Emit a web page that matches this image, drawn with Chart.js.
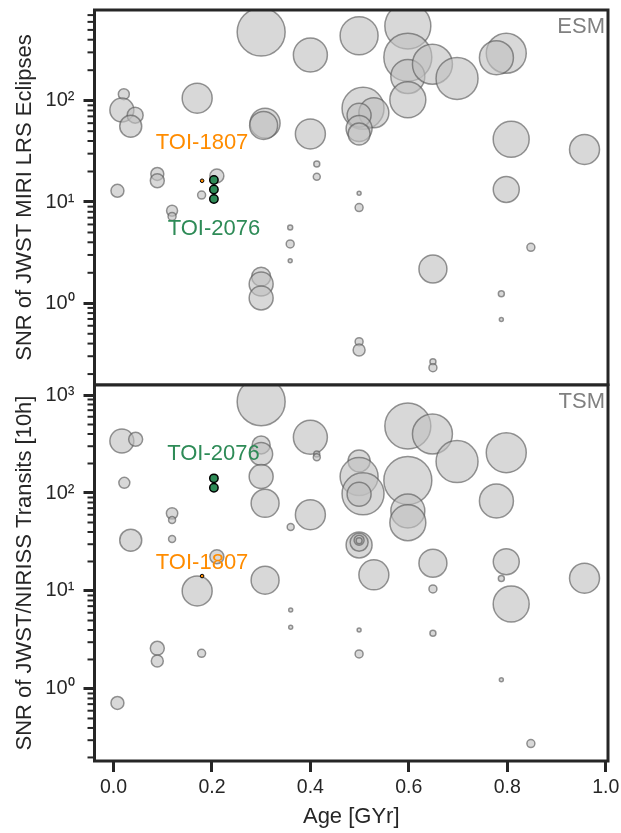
<!DOCTYPE html>
<html>
<head>
<meta charset="utf-8">
<script src="https://cdn.jsdelivr.net/npm/chart.js@4/dist/chart.umd.min.js"></script>
<style>
html,body{margin:0;padding:0;background:#fff;}
#wrap{position:relative;width:621px;height:833px;overflow:hidden;background:#fff;}
#c1{position:absolute;left:0;top:0;}
#c2{position:absolute;left:0;top:380px;}
</style>
</head>
<body>
<div id="wrap">
<canvas id="c1" width="621" height="386"></canvas>
<canvas id="c2" width="621" height="453"></canvas>
</div>
<script>
// ---------------- DATA ----------------
// Upper panel: ESM-based SNR of JWST MIRI LRS eclipses
const esmAge = [0.300,0.400,0.021,0.017,0.044,0.035,0.170,0.308,0.305,0.400,
                0.413,0.413,0.210,0.089,0.089,0.008,0.179,0.119,0.119,0.359,
                0.359,0.359,0.300,0.300,0.300,0.499,0.598,0.598,0.598,0.648,
                0.698,0.598,0.798,0.778,0.507,0.529,0.499,0.499,0.499,0.808,
                0.957,0.798,0.499,0.499,0.848,0.649,0.788,0.788,0.499,0.499,
                0.649,0.649];
const esmSNR = [477,283,116,81,72,56,106,60,57,47,
                23.7,17.7,18.1,18.9,16.2,12.9,11.7,8.2,7.2,5.6,
                3.85,2.63,1.83,1.55,1.13,438,546,268,173,229,
                166,102,294,266,84,76,72,53,47,41.6,
                33,13.3,12.2,8.8,3.57,2.18,1.24,0.69,0.418,0.346,
                0.265,0.231];
const esmBubble = [24,17,5.5,12,8,11,15,15,14,15,
                   3,3.5,7,6.5,7,6.5,4,5.5,4,2.5,
                   4,2,9.5,12,12,19,23,24,17,20,
                   21,18,20,17,21,15,12,13,11,18,
                   15,13,2,4,4,14,3,2,4,6,
                   3,4];

// Lower panel: TSM-based SNR of JWST/NIRISS transits [10h]
const tsmAge = [0.300,0.017,0.045,0.400,0.413,0.413,0.300,0.300,0.022,0.300,
                0.308,0.400,0.360,0.119,0.119,0.035,0.119,0.210,0.170,0.308,
                0.598,0.648,0.698,0.798,0.778,0.598,0.499,0.499,0.507,0.499,
                0.598,0.598,0.499,0.499,0.499,0.499,0.529,0.649,0.798,0.788,
                0.957,0.649,0.808,0.360,0.360,0.089,0.089,0.179,0.008,0.499,
                0.499,0.649,0.788,0.848];
const tsmSNR = [855,339,353,370,250,231,309,250,127,147,
                78.5,60,45,62,53,33,34,22.4,10.0,12.9,
                483,400,209,258,83,134,212,147,98,97,
                65.5,49.8,29.5,31.4,33,32.6,14.6,19.2,19.9,13.4,
                13.5,10.5,7.37,6.4,4.27,2.6,1.93,2.31,0.72,4.0,
                2.28,3.70,1.24,0.277];
const tsmBubble = [24,12,7,17,3,3.5,9,11.5,5.5,12,
                   14,15,3.5,5.7,3.5,11,3.5,7,15,14,
                   23,20,21,20,17,24,11,19,21,12,
                   17,18,13,9,5,3,15,14,13,3,
                   15,4,18,2,2,7,6,4,6.5,2,
                   4,3,2,4];

// Highlighted targets
const toi2076Age = 0.204;
const toi2076ESM = [16.5, 13.3, 10.7];
const toi2076TSM = [141, 113];
const toi1807Age = 0.180;
const toi1807ESM = [16.2];
const toi1807TSM = [14.2];

// Axes
const xTicks = [0.0, 0.2, 0.4, 0.6, 0.8, 1.0];
const esmMajorTicks = [1, 10, 100];
const tsmMajorTicks = [1, 10, 100, 1000];
const esmTickLabels = ['10⁰', '10¹', '10²'];
const tsmTickLabels = ['10⁰', '10¹', '10²', '10³'];

// ---------------- STYLE / LAYOUT ----------------
const FONT = "'Liberation Sans', Arial, Helvetica, sans-serif";
const INK = '#262626';
const X_MIN = -0.0386, X_MAX = 1.0047;
const GRAY_FILL = 'rgba(192,192,192,0.62)';
const GRAY_EDGE = 'rgba(85,85,85,0.62)';
const GREEN = '#2e8b57';
const ORANGE = '#ff8c00';
Chart.defaults.font.family = FONT;

function logTicks(min, max) {
  const out = [];
  for (let e = Math.floor(Math.log10(min)); e <= Math.ceil(Math.log10(max)); e++) {
    for (let m = 1; m <= 9; m++) {
      const v = m * Math.pow(10, e);
      if (v >= min * 0.9999 && v <= max * 1.0001) out.push({value: v, major: m === 1});
    }
  }
  return out;
}

function noPad(s) { s.paddingTop = 0; s.paddingBottom = 0; s.paddingLeft = 0; s.paddingRight = 0; }

function yAxis(min, max, majors, labels, title) {
  return {
    type: 'logarithmic', min: min, max: max,
    afterBuildTicks: s => { s.ticks = logTicks(min, max); },
    afterFit: s => { s.width = 84.5; noPad(s); },
    ticks: {
      autoSkip: false, padding: 9, color: INK,
      font: {family: FONT, size: 20},
      callback: (v) => {
        const i = majors.findIndex(m => Math.abs(m - v) / m < 1e-6);
        return i >= 0 ? labels[i] : '';
      }
    },
    grid: {
      drawOnChartArea: false, drawTicks: true, tickLength: 11, tickWidth: 3,
      tickColor: c => (c.tick && c.tick.major) ? INK : 'rgba(0,0,0,0)'
    },
    border: {display: false},
    title: {display: true, text: title, color: INK, font: {family: FONT, size: 22}, padding: {top: 2, bottom: 0}}
  };
}

function bubbles(ages, vals, sizes) {
  return ages.map((a, i) => ({x: a, y: vals[i], r: sizes[i]}));
}

function panelPlugin(name, notes) {
  return {
    id: 'panel_' + name,
    afterDraw(chart) {
      const {ctx, chartArea: ca, scales} = chart;
      ctx.save();
      const ys = scales.y;
      ctx.strokeStyle = INK; ctx.lineWidth = 2;
      ys.ticks.forEach(t => {
        if (t.major) return;
        const py = ys.getPixelForValue(t.value);
        ctx.beginPath(); ctx.moveTo(ca.left - 7, py); ctx.lineTo(ca.left, py); ctx.stroke();
      });
      ctx.lineWidth = 3; ctx.strokeStyle = INK;
      ctx.strokeRect(ca.left, ca.top, ca.right - ca.left, ca.bottom - ca.top);
      ctx.fillStyle = '#808080';
      ctx.font = '22px ' + FONT;
      ctx.textAlign = 'right'; ctx.textBaseline = 'middle';
      ctx.fillText(name, ca.right - 3, ca.top + 17);
      ctx.textAlign = 'center';
      notes.forEach(n => {
        ctx.fillStyle = n.color;
        ctx.fillText(n.text, scales.x.getPixelForValue(n.x), ys.getPixelForValue(n.y));
      });
      ctx.restore();
    }
  };
}

function datasets(ages, vals, sizes, greenVals, orangeVals) {
  return [
    {data: orangeVals.map(v => ({x: toi1807Age, y: v, r: 1.8})), backgroundColor: ORANGE, borderColor: '#000', borderWidth: 1, order: 1, clip: 0},
    {data: greenVals.map(v => ({x: toi2076Age, y: v, r: 4.2})), backgroundColor: GREEN, borderColor: '#000', borderWidth: 1.5, order: 2, clip: 0},
    {data: bubbles(ages, vals, sizes), backgroundColor: GRAY_FILL, borderColor: GRAY_EDGE, borderWidth: 1.5, order: 3, clip: 0}
  ];
}

const common = {
  responsive: false, animation: false, devicePixelRatio: 1, events: [],
  plugins: {legend: {display: false}, tooltip: {enabled: false}}
};

new Chart(document.getElementById('c1'), {
  type: 'bubble',
  data: {datasets: datasets(esmAge, esmSNR, esmBubble, toi2076ESM, toi1807ESM)},
  options: Object.assign({}, common, {
    layout: {autoPadding: false, padding: {left: 10, right: 13, top: 10, bottom: 1}},
    scales: {
      x: {type: 'linear', min: X_MIN, max: X_MAX, display: false},
      y: yAxis(0.156, 786, esmMajorTicks, esmTickLabels, 'SNR of JWST MIRI LRS Eclipses')
    }
  }),
  plugins: [panelPlugin('ESM', [
    {text: 'TOI-1807', x: 0.180, y: 38.2, color: ORANGE},
    {text: 'TOI-2076', x: 0.204, y: 5.41, color: GREEN}
  ])]
});

new Chart(document.getElementById('c2'), {
  type: 'bubble',
  data: {datasets: datasets(tsmAge, tsmSNR, tsmBubble, toi2076TSM, toi1807TSM)},
  options: Object.assign({}, common, {
    layout: {autoPadding: false, padding: {left: 10, right: 13, top: 5, bottom: 0}},
    scales: {
      x: {
        type: 'linear', min: X_MIN, max: X_MAX,
        afterBuildTicks: s => { s.ticks = xTicks.map(v => ({value: v})); },
        afterFit: s => { s.height = 72; noPad(s); },
        ticks: {autoSkip: false, maxRotation: 0, padding: 4, color: INK, font: {family: FONT, size: 19.5},
                callback: v => Number(v).toFixed(1)},
        grid: {drawOnChartArea: false, drawTicks: true, tickLength: 11, tickWidth: 3, tickColor: INK},
        border: {display: false},
        title: {display: true, text: 'Age [GYr]', color: INK, font: {family: FONT, size: 22}, padding: {top: 0, bottom: 3}}
      },
      y: yAxis(0.184, 1265, tsmMajorTicks, tsmTickLabels, 'SNR of JWST/NIRISS Transits [10h]')
    }
  }),
  plugins: [panelPlugin('TSM', [
    {text: 'TOI-2076', x: 0.203, y: 250, color: GREEN},
    {text: 'TOI-1807', x: 0.180, y: 19.4, color: ORANGE}
  ])]
});
</script>
</body>
</html>
